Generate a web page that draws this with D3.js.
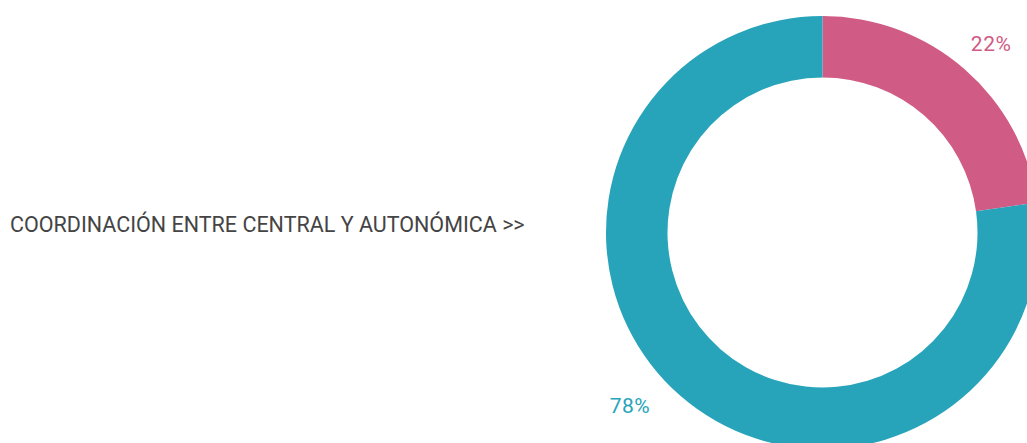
<!DOCTYPE html>
<html lang="es">
<head>
<meta charset="UTF-8">
<script src="https://d3js.org/d3.v7.min.js"></script>
<style>
  body { margin: 0; background: #fff; }
  svg { display: block; }
</style>
</head>
<body>
<svg width="1027" height="443"></svg>
<script>
  // data
  var categories = ["Sí", "No"];
  var values = [22.8, 77.2];
  var labels = ["22%", "78%"];
  var colors = ["#d05b85", "#27a4b9"];
  var title = "COORDINACIÓN ENTRE CENTRAL Y AUTONÓMICA >>";

  var svg = d3.select("svg");
  var cx = 822.5, cy = 232.5;
  var outerR = 216.5, innerR = 155;

  svg.append("text")
    .attr("x", 10)
    .attr("y", 232)
    .attr("fill", "#444")
    .style("font-family", "Roboto, sans-serif")
    .style("font-size", "21.5px")
    .text(title);

  var pie = d3.pie().sort(null).value(d => d);
  var arcs = pie(values);
  var arc = d3.arc().innerRadius(innerR).outerRadius(outerR);

  var g = svg.append("g").attr("transform", "translate(" + cx + "," + cy + ")");

  g.selectAll("path")
    .data(arcs)
    .enter()
    .append("path")
    .attr("d", arc)
    .attr("fill", (d, i) => colors[i]);

  // labels outside the ring
  var labelR = [253, 259];
  var nudge = [0.013, 0.122];
  g.selectAll("text")
    .data(arcs)
    .enter()
    .append("text")
    .attr("x", (d, i) => labelR[i] * Math.sin((d.startAngle + d.endAngle) / 2 + nudge[i]))
    .attr("y", (d, i) => -labelR[i] * Math.cos((d.startAngle + d.endAngle) / 2 + nudge[i]))
    .attr("dy", "0.35em")
    .attr("text-anchor", "middle")
    .attr("fill", (d, i) => colors[i])
    .style("font-family", "Roboto, sans-serif")
    .style("font-size", "21px")
    .style("letter-spacing", "0.5px")
    .text((d, i) => labels[i]);
</script>
</body>
</html>
